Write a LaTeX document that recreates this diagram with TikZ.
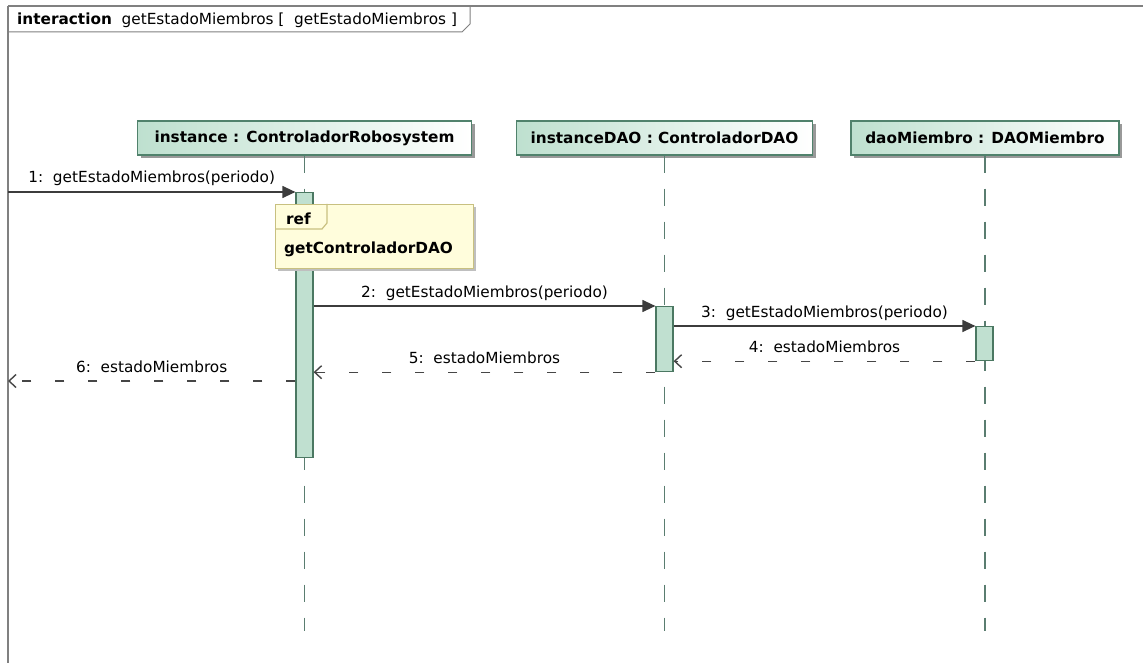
\documentclass[tikz,border=0pt]{standalone}
\usepackage{fontspec}
\setmainfont{DejaVu Sans}
\usetikzlibrary{arrows.meta,shadows,calc}
\definecolor{frameGray}{RGB}{128,128,128}
\definecolor{lifeC}{RGB}{90,125,112}
\definecolor{headFill}{RGB}{190,224,207}
\definecolor{headLine}{RGB}{80,130,108}
\definecolor{actFill}{RGB}{192,224,208}
\definecolor{actLine}{RGB}{75,120,98}
\definecolor{refFill}{RGB}{255,253,220}
\definecolor{refLine}{RGB}{200,192,128}
\definecolor{msgC}{RGB}{60,60,60}
\definecolor{retC}{RGB}{70,70,70}
\tikzset{
  txt/.style={font=\fontsize{15.3pt}{18pt}\selectfont, inner sep=0pt},
  btxt/.style={font=\fontsize{15.3pt}{18pt}\selectfont\bfseries, inner sep=0pt},
  headbox/.style={draw=headLine, line width=1.2pt, left color=headFill, right color=white,
    minimum height=34pt, inner sep=0pt, font=\fontsize{15.3pt}{18pt}\selectfont\bfseries,
    drop shadow={shadow xshift=3pt, shadow yshift=-3pt, fill=black!40, opacity=1}},
  lifeline/.style={draw=lifeC, line width=1.2pt, dash pattern=on 17pt off 16pt},
  actbox/.style={draw=actLine, fill=actFill, line width=1.2pt, inner sep=0pt, minimum width=17pt},
  refbox/.style={draw=refLine, fill=refFill, line width=1.2pt, inner sep=0pt,
    drop shadow={shadow xshift=2pt, shadow yshift=-2pt, fill=black!25, opacity=1}},
  callmsg/.style={draw=msgC, line width=1.2pt, -{Triangle[length=13pt,width=12pt]}},
  retmsg/.style={draw=retC, line width=1.4pt, dash pattern=on 9pt off 24pt,
    -{Straight Barb[length=7pt,width=13pt]}},
  msglbl/.style={txt, anchor=base, yshift=9pt},
  framel/.style={draw=frameGray},
}
\begin{document}
\begin{tikzpicture}[x=1pt,y=-1pt]
\useasboundingbox (0,0) rectangle (1143,663);
\fill[white] (0,0) rectangle (1143,663);

% frame
\coordinate (fTL) at (8,6);
\coordinate (fTR) at (1143,6);
\coordinate (fBL) at (8,663);
\coordinate (tabB) at (462,32);
\coordinate (tabR) at (470,24);
\draw[framel, line width=1.5pt] (fTL) -- (fBL);
\draw[framel, line width=2.5pt] (fTL) -- (fTR);
\draw[framel, line width=1pt] (fTL |- tabB) -- (tabB) -- (tabR) -- (tabR |- fTL);
\node[txt, anchor=base west] (ftitle) at (17,25)
  {\textbf{interaction}\ \ getEstadoMiembros [\ \ getEstadoMiembros ]};

% lifeline heads
\node[headbox, minimum width=334pt] (headA) at (304.5,138) {instance : ControladorRobosystem};
\node[headbox, minimum width=296pt] (headB) at (664.5,138) {instanceDAO : ControladorDAO};
\node[headbox, minimum width=268pt] (headC) at (985,138) {daoMiembro : DAOMiembro};

% lifelines
\coordinate (lifeEnd) at (0,631);
\draw[lifeline] (headA.south) -- (headA.south |- lifeEnd);
\draw[lifeline] (headB.south) -- (headB.south |- lifeEnd);
\draw[lifeline] (headC.south) -- (headC.south |- lifeEnd);

% activations
\node[actbox, minimum height=265pt, anchor=north] (actA) at (304.5,192) {};
\node[actbox, minimum height=65pt, anchor=north] (actB) at (664.5,306) {};
\node[actbox, minimum height=34pt, anchor=north] (actC) at (984.5,326) {};

% ref fragment
\node[refbox, minimum width=198pt, minimum height=64pt, anchor=north west] (refF) at (275,204) {};
\coordinate (tabE) at ($(refF.north west)+(52,0)$);
\draw[draw=refLine, line width=1.2pt] (tabE) -- ++(0,19) -- ++(-5,6) -- ($(refF.north west)+(0,25)$);
\node[btxt, anchor=base west] (refT) at (286,224.5) {ref};
\node[btxt, anchor=base west] (refN) at (284,253) {getControladorDAO};

% messages
\coordinate (m1s) at (8,192);
\coordinate (m6e) at (8,381);
\draw[callmsg] (m1s) -- node[msglbl] (l1) {1:\ \ getEstadoMiembros(periodo)} (actA.north west);
\draw[callmsg] (actA.east |- actB.north) -- node[msglbl] (l2) {2:\ \ getEstadoMiembros(periodo)} (actB.north west);
\draw[callmsg] (actB.east |- actC.north) -- node[msglbl] (l3) {3:\ \ getEstadoMiembros(periodo)} (actC.north west);
\draw[retmsg] (actC.south west) -- node[msglbl] (l4) {4:\ \ estadoMiembros} (actB.east |- actC.south);
\draw[retmsg] (actB.south west) -- node[msglbl] (l5) {5:\ \ estadoMiembros} (actA.east |- actB.south);
\draw[retmsg] (actA.west |- m6e) -- node[msglbl] (l6) {6:\ \ estadoMiembros} (m6e);
\end{tikzpicture}
\end{document}
